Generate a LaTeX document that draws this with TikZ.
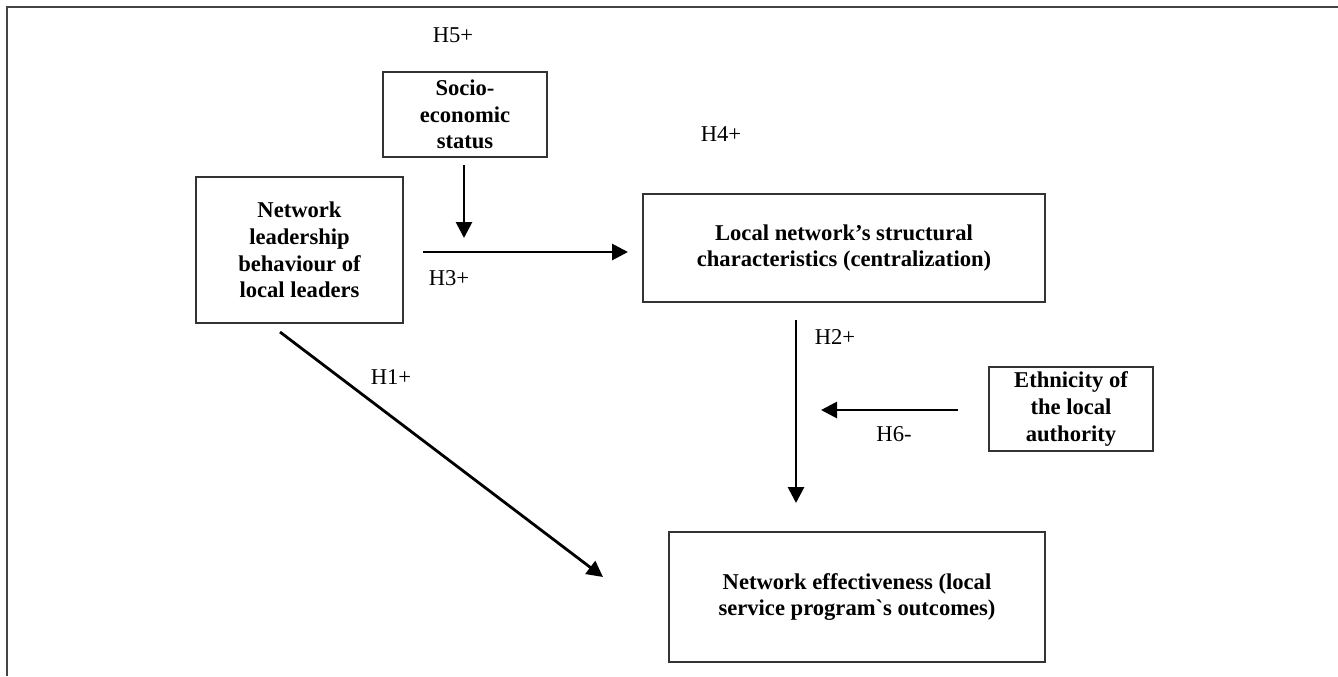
\documentclass[tikz,border=0pt]{standalone}
\usepackage{fontspec}
\newfontfamily\tnr{Liberation Serif}
\usetikzlibrary{arrows.meta}
\definecolor{frame}{HTML}{444444}
\definecolor{boxline}{HTML}{333333}
\tikzset{
  box/.style={draw=boxline, line width=1.3pt, rectangle, inner sep=0pt, align=center,
    font=\tnr\bfseries\fontsize{11.3}{13.3}\selectfont},
  lbl/.style={font=\tnr\fontsize{11.3}{13.3}\selectfont, inner sep=0pt},
  arr/.style={line width=1.4pt, -{Triangle[length=8pt,width=8pt]}}
}
\begin{document}
\begin{tikzpicture}[x=0.5pt,y=-0.5pt]
\useasboundingbox (0,0) rectangle (1338,676);
\draw[frame, line width=1.2pt] (7,676) -- (7,7) -- (1338,7);
% boxes
\node[box, minimum width=82pt, minimum height=42.5pt] (ses) at (465,114.5) {Socio-\\economic\\status};
\node[box, minimum width=103.5pt, minimum height=73pt] (lead) at (299.5,250) {Network\\leadership\\behaviour of\\local leaders};
\node[box, minimum width=201pt, minimum height=54pt] (struct) at (844,248) {Local network’s structural\\characteristics (centralization)};
\node[box, minimum width=82pt, minimum height=42pt] (eth) at (1071,409) {Ethnicity of\\the local\\authority};
\node[box, minimum width=188pt, minimum height=65pt] (eff) at (857,597) {Network effectiveness (local\\service program`s outcomes)};
% arrow end points
\coordinate (h5s) at (464,165); \coordinate (h5e) at (464,238);
\coordinate (h3s) at (423,252); \coordinate (h3e) at (628,252);
\coordinate (h1s) at (280,332); \coordinate (h1e) at (603,577);
\coordinate (h2s) at (796,320); \coordinate (h2e) at (796,503);
\coordinate (h6s) at (958,410); \coordinate (h6e) at (821,410);
\draw[arr] (h5s) -- (h5e);
\draw[arr] (h3s) -- (h3e);
\draw[arr] (h1s) -- (h1e);
\draw[arr] (h2s) -- (h2e);
\draw[arr] (h6s) -- (h6e);
% labels
\node[lbl] (l5) at (453,35) {H5+};
\node[lbl] (l4) at (721,134) {H4+};
\node[lbl] (l3) at (449,278) {H3+};
\node[lbl] (l1) at (391,377) {H1+};
\node[lbl] (l2) at (835,337) {H2+};
\node[lbl] (l6) at (894,434) {H6-};
\end{tikzpicture}
\end{document}
